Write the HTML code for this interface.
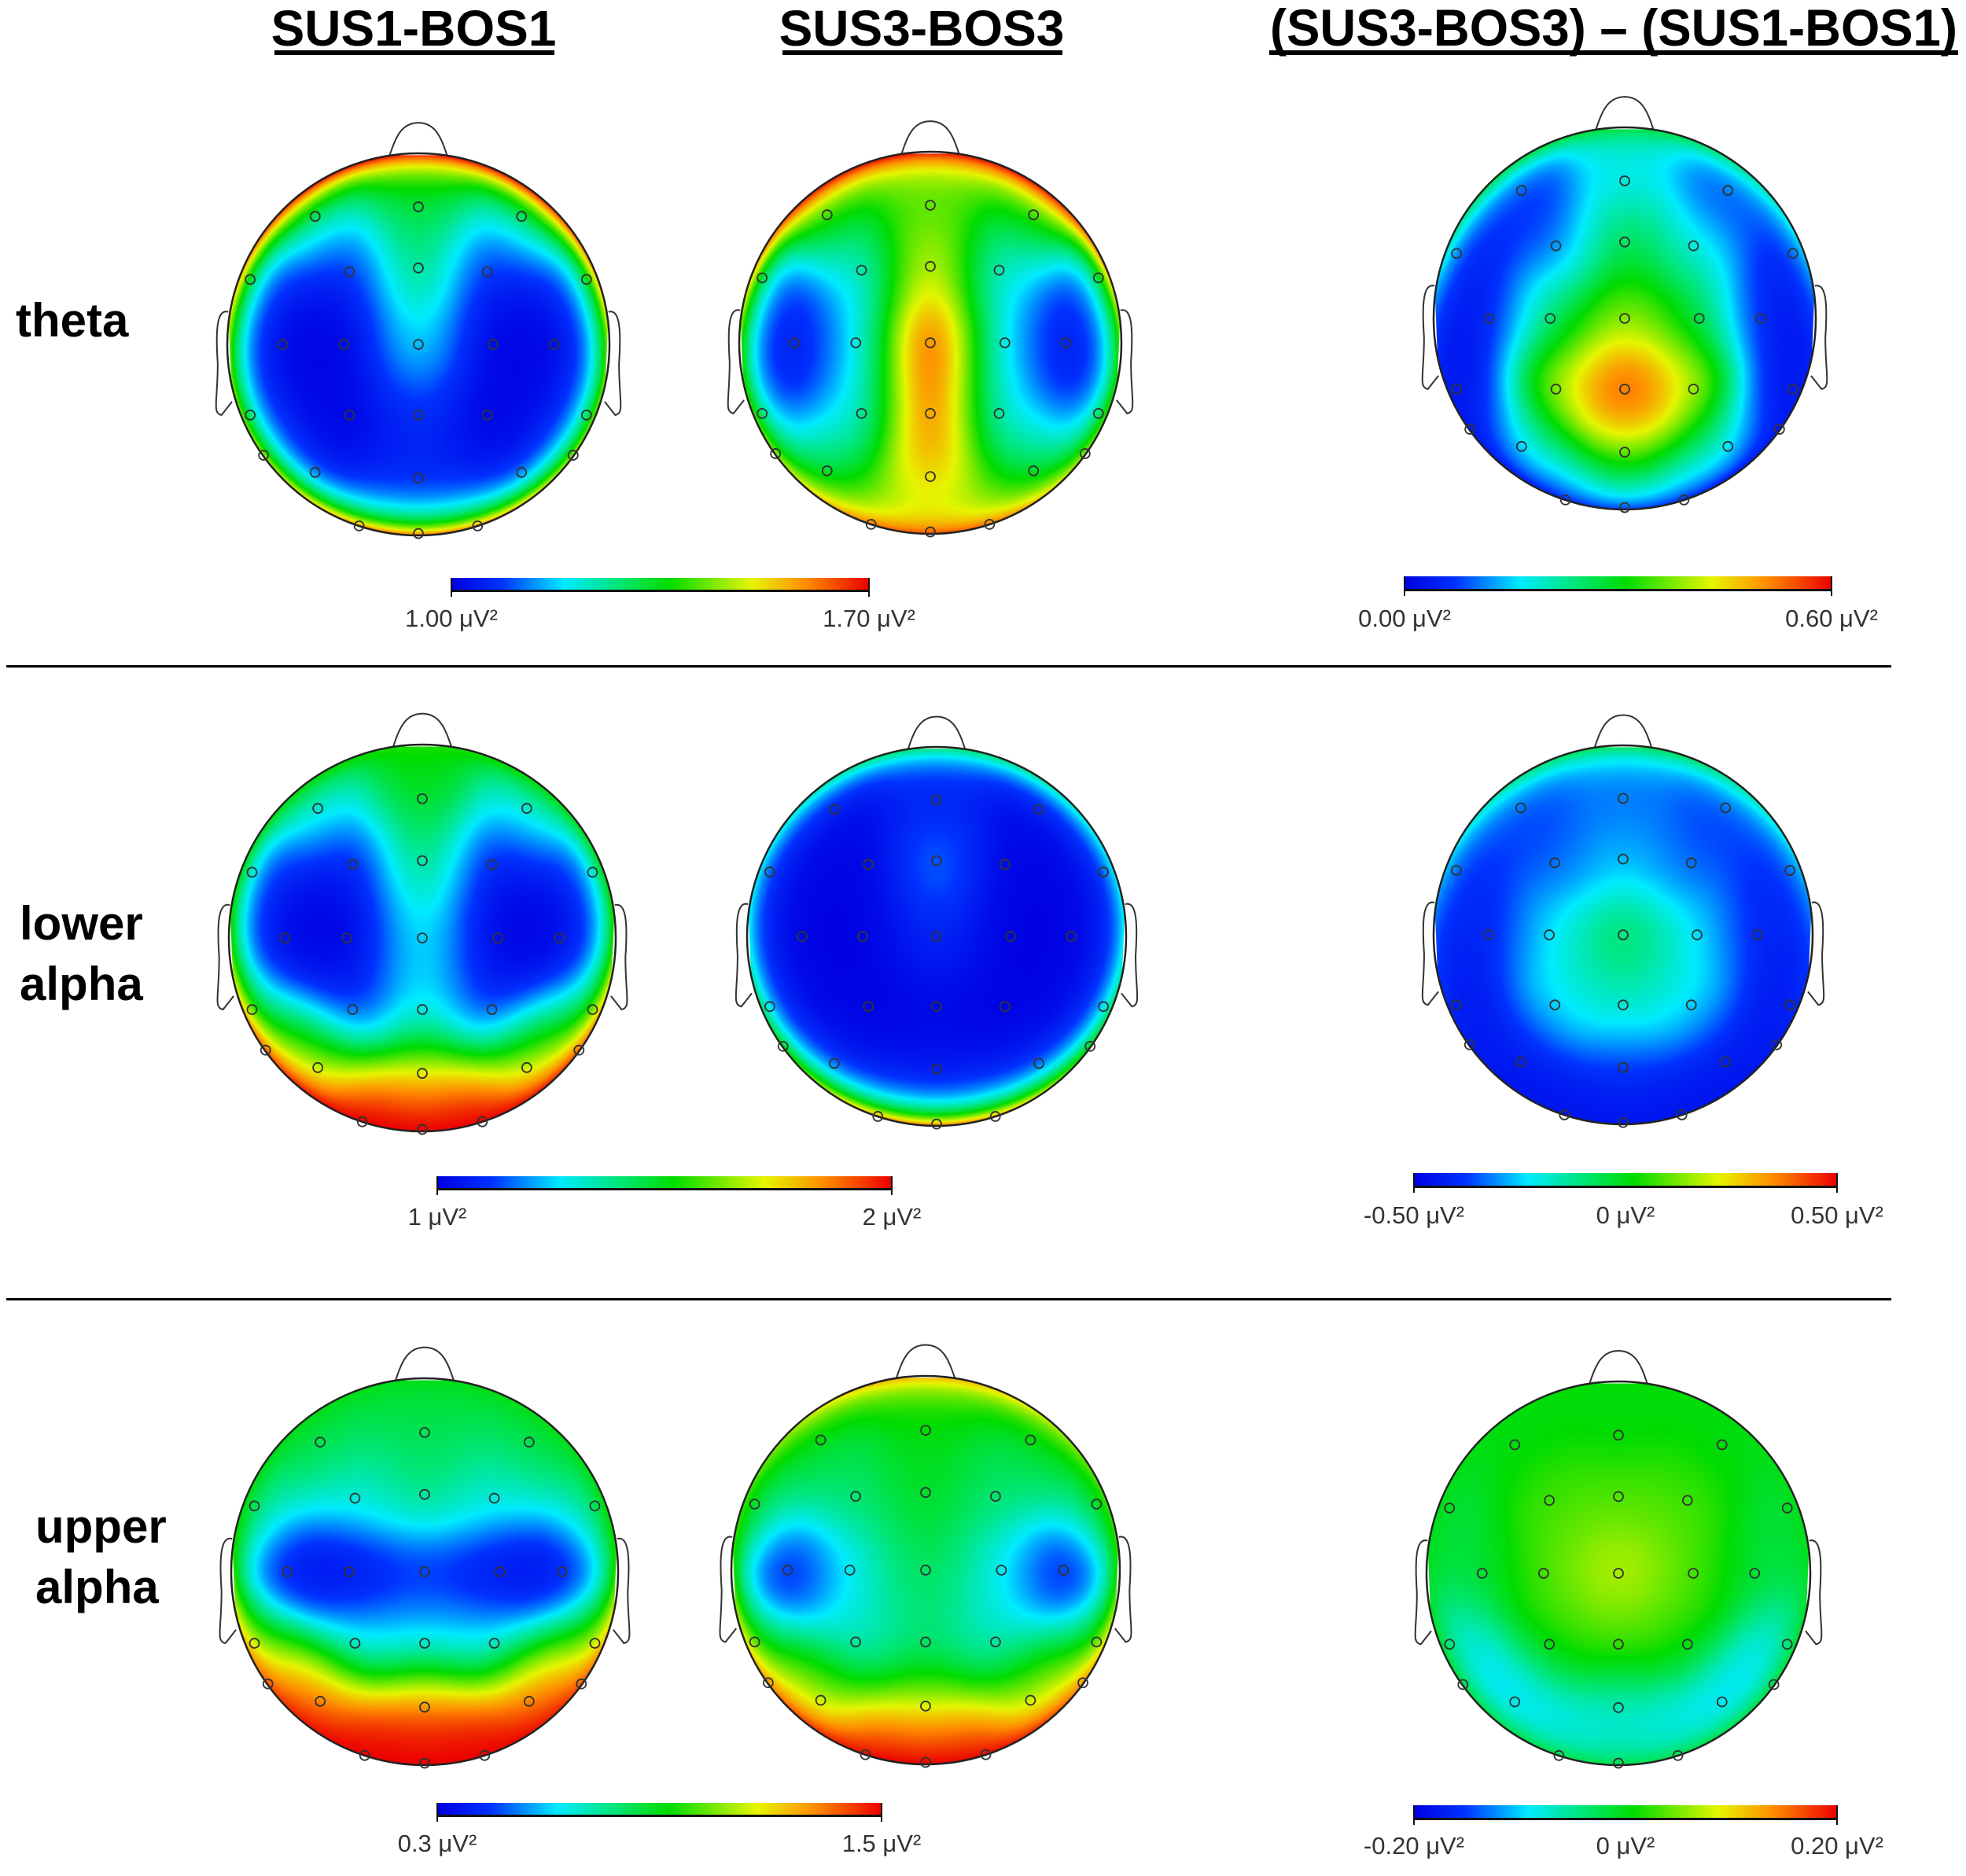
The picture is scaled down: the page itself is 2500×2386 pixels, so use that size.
<!DOCTYPE html>
<html><head><meta charset="utf-8">
<style>
html,body{margin:0;padding:0;background:#fff;}
#wrap{position:relative;width:2500px;height:2386px;overflow:hidden;background:#fff;}
canvas{position:absolute;}
svg{position:absolute;left:0;top:0;}
</style></head>
<body>
<div id="wrap">
<svg id="ov" width="2500" height="2386">
<defs>
<linearGradient id="jet" x1="0" x2="1" y1="0" y2="0">
<stop offset="0" stop-color="rgb(0,0,225)"/><stop offset="0.12" stop-color="rgb(0,50,255)"/>
<stop offset="0.27" stop-color="rgb(0,235,255)"/><stop offset="0.4" stop-color="rgb(0,230,120)"/>
<stop offset="0.52" stop-color="rgb(0,220,0)"/><stop offset="0.72" stop-color="rgb(230,245,0)"/>
<stop offset="0.85" stop-color="rgb(255,140,0)"/><stop offset="1" stop-color="rgb(235,0,0)"/>
</linearGradient>
</defs>
<g font-family="Liberation Sans, sans-serif" font-weight="bold" fill="#000">
<text x="526" y="58" font-size="64" text-anchor="middle">SUS1-BOS1</text>
<rect x="349" y="64" width="356" height="6"/>
<text x="1172" y="58" font-size="64" text-anchor="middle">SUS3-BOS3</text>
<rect x="995" y="64" width="356" height="6"/>
<text x="2052" y="58" font-size="66" text-anchor="middle" textLength="874" lengthAdjust="spacingAndGlyphs">(SUS3-BOS3) – (SUS1-BOS1)</text>
<rect x="1614" y="64" width="876" height="6"/>
<text x="20" y="428" font-size="60">theta</text>
<text x="25" y="1195" font-size="60">lower</text>
<text x="25" y="1272" font-size="60">alpha</text>
<text x="45" y="1962" font-size="60">upper</text>
<text x="45" y="2039" font-size="60">alpha</text>
</g>
<rect x="8" y="846" width="2397" height="3" fill="#000"/>
<rect x="8" y="1651" width="2397" height="3" fill="#000"/>
<g id="heads"></g>
<g id="bars" font-family="Liberation Sans, sans-serif" font-size="31" fill="#333"></g>
</svg>
</div>
<script>
// electrode layout (unit head coords)
const elecX=[0,-0.54,0.54,-0.88,0.88,-0.36,0.36,0,-0.71,0.71,-0.39,0.39,0,-0.88,0.88,-0.36,0.36,0,-0.81,0.81,-0.54,0.54,0,-0.31,0.31,0];
const elecY=[-0.72,-0.67,-0.67,-0.34,-0.34,-0.38,-0.38,-0.40,0,0,0,0,0,0.37,0.37,0.37,0.37,0.37,0.58,0.58,0.67,0.67,0.70,0.95,0.95,0.99];
// values (fraction of colour scale) at electrodes; rim (edge) values at 16 angles clockwise from nose
const thetaSus1=[0.45,0.3,0.3,0.05,0.05,0.05,0.05,0.45,0,0,0,0,0.3,0.02,0.02,0,0,0.12,0.05,0.05,0,0,0.05,0.1,0.1,0.15];
const thetaSus1Rim=[1,1,1,0.85,0.65,0.6,0.7,0.85,0.95,0.85,0.7,0.6,0.65,0.85,1,1];
const thetaSus3=[0.55,0.5,0.5,0.05,0.05,0.25,0.25,0.8,0,0,0.28,0.28,1,0,0,0.25,0.25,1,0.25,0.25,0.45,0.45,0.8,0.55,0.55,0.62];
const thetaSus3Rim=[1,1,1,0.85,0.55,0.55,0.7,0.9,0.95,0.9,0.7,0.55,0.55,0.85,1,1];
const thetaDiff=[0.25,0.05,0.08,0.03,0.05,0.15,0.3,0.5,0.02,0.02,0.45,0.5,0.65,0.02,0.02,0.7,0.72,1,0.05,0.05,0.35,0.38,0.72,0.2,0.25,0.35];
const thetaDiffRim=[0.48,0.45,0.35,0.3,0.1,0.05,0.05,0.1,0.15,0.1,0.05,0.05,0.1,0.4,0.45,0.48];
const lowSus1=[0.5,0.3,0.3,0.05,0.05,0.02,0.02,0.45,0,0,0,0,0.3,0.1,0.1,0.05,0.05,0.3,0.62,0.62,0.66,0.66,0.7,1,1,1];
const lowSus1Rim=[0.55,0.55,0.5,0.5,0.55,0.85,1,1,1,1,1,0.85,0.55,0.5,0.5,0.55];
const lowSus3=[0.05,0,0,0,0,0,0,0.22,0,0,0,0,0.1,0,0,0,0,0.02,0,0,0.02,0.02,0.02,0.05,0.05,0.08];
const lowSus3Rim=[0.45,0.4,0.35,0.25,0.3,0.4,0.6,0.85,0.95,0.85,0.6,0.4,0.3,0.25,0.35,0.4];
const lowDiff=[0.15,0.1,0.1,0.08,0.08,0.15,0.15,0.25,0.05,0.05,0.3,0.3,0.45,0.05,0.05,0.28,0.28,0.35,0.05,0.05,0.05,0.05,0.12,0.05,0.05,0.05];
const lowDiffRim=[0.45,0.45,0.35,0.25,0.15,0.08,0.05,0.05,0.05,0.05,0.05,0.08,0.15,0.25,0.35,0.45];
const upSus1=[0.45,0.45,0.45,0.35,0.35,0.3,0.3,0.4,0.02,0.02,0.02,0.02,0.1,0.35,0.35,0.25,0.25,0.25,0.9,0.9,0.9,0.9,0.9,1,1,1];
const upSus1Rim=[0.5,0.5,0.5,0.5,0.55,0.85,1,1,1,1,1,0.85,0.55,0.5,0.5,0.5];
const upSus3=[0.5,0.45,0.45,0.4,0.4,0.4,0.4,0.5,0,0,0.3,0.3,0.45,0.2,0.2,0.3,0.3,0.4,0.75,0.75,0.6,0.6,0.65,0.95,0.95,1];
const upSus3Rim=[0.85,0.8,0.65,0.55,0.55,0.75,0.95,1,1,1,0.95,0.75,0.55,0.55,0.65,0.8];
const upDiff=[0.5,0.5,0.5,0.45,0.45,0.58,0.58,0.6,0.45,0.45,0.6,0.6,0.7,0.3,0.3,0.55,0.55,0.6,0.15,0.15,0.2,0.2,0.3,0.25,0.25,0.3];
const upDiffRim=[0.52,0.52,0.5,0.5,0.5,0.48,0.45,0.45,0.45,0.45,0.45,0.48,0.5,0.5,0.5,0.52];
// colour-bar labels
const lblTheta=["1.00 μV²","1.70 μV²"];
const lblThetaDiff=["0.00 μV²","0.60 μV²"];
const lblLow=["1 μV²","2 μV²"];
const lblLowDiff=["-0.50 μV²","0 μV²","0.50 μV²"];
const lblUp=["0.3 μV²","1.5 μV²"];
const lblUpDiff=["-0.20 μV²","0 μV²","0.20 μV²"];

const heads=[
 {n:'theta-sus1',cx:532,cy:438,r:243,v:thetaSus1,rim:thetaSus1Rim},
 {n:'theta-sus3',cx:1183,cy:436,r:243,v:thetaSus3,rim:thetaSus3Rim},
 {n:'theta-diff',cx:2066,cy:405,r:243,v:thetaDiff,rim:thetaDiffRim},
 {n:'lower-alpha-sus1',cx:537,cy:1193,r:246,v:lowSus1,rim:lowSus1Rim},
 {n:'lower-alpha-sus3',cx:1191,cy:1191,r:241,v:lowSus3,rim:lowSus3Rim},
 {n:'lower-alpha-diff',cx:2064,cy:1189,r:241,v:lowDiff,rim:lowDiffRim},
 {n:'upper-alpha-sus1',cx:540,cy:1999,r:246,v:upSus1,rim:upSus1Rim},
 {n:'upper-alpha-sus3',cx:1177,cy:1997,r:247,v:upSus3,rim:upSus3Rim},
 {n:'upper-alpha-diff',cx:2058,cy:2001,r:244,v:upDiff,rim:upDiffRim}
];
const stops=[[0,0,0,225],[0.12,0,50,255],[0.27,0,235,255],[0.4,0,230,120],[0.52,0,220,0],[0.72,230,245,0],[0.85,255,140,0],[1,235,0,0]];
function jet(f){f=Math.max(0,Math.min(1,f));for(let i=1;i<stops.length;i++){if(f<=stops[i][0]){const a=stops[i-1],b=stops[i],t=(f-a[0])/(b[0]-a[0]);return [a[1]+t*(b[1]-a[1]),a[2]+t*(b[2]-a[2]),a[3]+t*(b[3]-a[3])];}}return [235,0,0];}
function rimAt(rim,th){ // smooth periodic interpolation of rim values
 const n=rim.length;let ws=0,vs=0;
 for(let k=0;k<n;k++){let d=th-k*2*Math.PI/n;d=Math.atan2(Math.sin(d),Math.cos(d));const w=Math.exp(-d*d/(2*0.3*0.3));ws+=w;vs+=w*rim[k];}
 return vs/ws;}
const NS='http://www.w3.org/2000/svg';
const wrap=document.getElementById('wrap');
const hg=document.getElementById('heads');
function mk(tag,attrs,parent){const e=document.createElementNS(NS,tag);for(const k in attrs)e.setAttribute(k,attrs[k]);parent.appendChild(e);return e;}
heads.forEach(h=>{
 const S=2*h.r, cv=document.createElement('canvas');cv.width=S;cv.height=S;
 cv.style.left=(h.cx-h.r)+'px';cv.style.top=(h.cy-h.r)+'px';
 
 
 wrap.insertBefore(cv,wrap.firstChild);
 const ctx=cv.getContext('2d'),img=ctx.createImageData(S,S),d=img.data;
 const s2=2*0.19*0.19;
 for(let y=0;y<S;y++){const uy=(y+0.5-h.r)/h.r;for(let x=0;x<S;x++){const ux=(x+0.5-h.r)/h.r;const rr=ux*ux+uy*uy;if(rr>1)continue;
  let ws=0,vs=0;for(let i=0;i<elecX.length;i++){const dx=ux-elecX[i],dy=uy-elecY[i];const w=Math.exp(-(dx*dx+dy*dy)/s2)+1e-12;ws+=w;vs+=w*h.v[i];}
  const inner=vs/ws;const rho=Math.sqrt(rr);const b=Math.exp(-(1-rho)/0.1);
  const th=Math.atan2(ux,-uy);const val=(1-b)*inner+b*rimAt(h.rim,th);
  const c=jet(val),o=(y*S+x)*4;d[o]=c[0];d[o+1]=c[1];d[o+2]=c[2];d[o+3]=255;}}
 ctx.putImageData(img,0,0);
 const g=mk('g',{},hg);
 
 
 const r=h.r;
 const nose=mk('path',{d:`M${h.cx-0.15*r},${h.cy-0.99*r} C${h.cx-0.12*r},${h.cy-1.08*r} ${h.cx-0.09*r},${h.cy-1.16*r} ${h.cx},${h.cy-1.16*r} C${h.cx+0.09*r},${h.cy-1.16*r} ${h.cx+0.12*r},${h.cy-1.08*r} ${h.cx+0.15*r},${h.cy-0.99*r}`,fill:'#fff',stroke:'#333','stroke-width':2},g);
 
 
 [-1,1].forEach(sd=>{
  const ear=mk('path',{d:`M${h.cx+sd*0.995*r},${h.cy-0.17*r} C${h.cx+sd*1.06*r},${h.cy-0.19*r} ${h.cx+sd*1.06*r},${h.cy-0.05*r} ${h.cx+sd*1.05*r},${h.cy+0.1*r} C${h.cx+sd*1.05*r},${h.cy+0.3*r} ${h.cx+sd*1.08*r},${h.cy+0.36*r} ${h.cx+sd*1.03*r},${h.cy+0.37*r} L${h.cx+sd*0.975*r},${h.cy+0.3*r}`,fill:'#fff',stroke:'#333','stroke-width':2},g);
  
  
 });
 const oc=mk('circle',{cx:h.cx,cy:h.cy,r:h.r,fill:'none',stroke:'#222','stroke-width':2.5},g);
 
 
 for(let i=0;i<elecX.length;i++){
  const e=mk('circle',{cx:h.cx+elecX[i]*r,cy:h.cy+elecY[i]*r,r:6,fill:'none',stroke:'#333','stroke-width':1.8},g);
  
  
 }
});
const bars=[
 {n:'theta-colorbar',x0:574,x1:1105,y:735,h:18,ly:797,l:lblTheta},
 {n:'theta-diff-colorbar',x0:1786,x1:2329,y:733,h:19,ly:797,l:lblThetaDiff},
 {n:'lower-alpha-colorbar',x0:556,x1:1134,y:1496,h:18,ly:1558,l:lblLow},
 {n:'lower-alpha-diff-colorbar',x0:1798,x1:2336,y:1492,h:19,ly:1556,l:lblLowDiff},
 {n:'upper-alpha-colorbar',x0:556,x1:1121,y:2293,h:18,ly:2355,l:lblUp},
 {n:'upper-alpha-diff-colorbar',x0:1798,x1:2336,y:2296,h:19,ly:2358,l:lblUpDiff}
];
const bg=document.getElementById('bars');
bars.forEach(b=>{
 const g=mk('g',{},bg);
 
 
 mk('rect',{x:b.x0,y:b.y,width:b.x1-b.x0,height:b.h,fill:'url(#jet)'},g);
 mk('rect',{x:b.x0,y:b.y+b.h-3,width:b.x1-b.x0,height:3,fill:'#111'},g);
 mk('rect',{x:b.x0-1,y:b.y,width:2,height:b.h+6,fill:'#111'},g);
 mk('rect',{x:b.x1-1,y:b.y,width:2,height:b.h+6,fill:'#111'},g);
 b.l.forEach((t,i)=>{
  const x=b.x0+(b.x1-b.x0)*i/(b.l.length-1);
  const tx=mk('text',{x:x,y:b.ly,'text-anchor':'middle'},g);
  tx.textContent=t;
  
  
 });
});
</script>
</body></html>
